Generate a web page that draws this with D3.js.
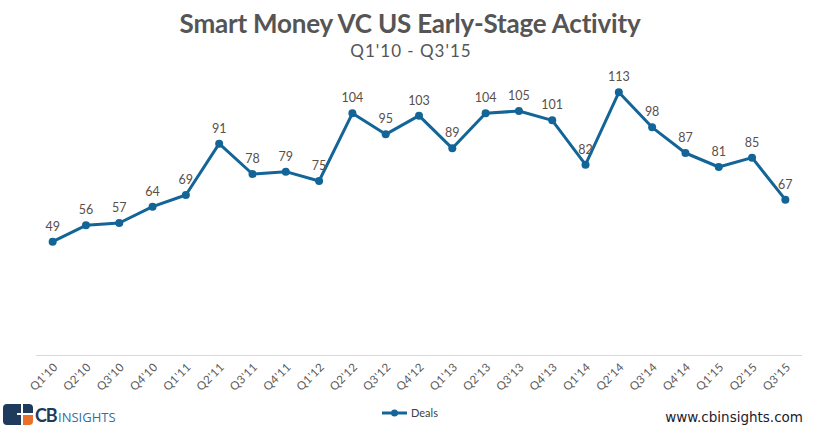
<!DOCTYPE html>
<html>
<head>
<meta charset="utf-8">
<script src="https://cdn.jsdelivr.net/npm/d3@7"></script>
<style>
  html, body { margin: 0; padding: 0; background: #fff; }
  svg { display: block; }
</style>
</head>
<body>
<svg id="chart" width="816" height="433"></svg>
<script>
'use strict';

// ── Data ─────────────────────────────────────────────────────
const QUARTERS = [
  "Q1'10", "Q2'10", "Q3'10", "Q4'10",
  "Q1'11", "Q2'11", "Q3'11", "Q4'11",
  "Q1'12", "Q2'12", "Q3'12", "Q4'12",
  "Q1'13", "Q2'13", "Q3'13", "Q4'13",
  "Q1'14", "Q2'14", "Q3'14", "Q4'14",
  "Q1'15", "Q2'15", "Q3'15"
];
const DEALS = [49, 56, 57, 64, 69, 91, 78, 79, 75, 104, 95, 103,
               89, 104, 105, 101, 82, 113, 98, 87, 81, 85, 67];
const Y_DOMAIN = [0, 120];

const TITLE    = 'Smart Money VC US Early-Stage Activity';
const SUBTITLE = "Q1'10 - Q3'15";
const SERIES   = 'Deals';

const LINE_COLOR = '#136597';
const TEXT_COLOR = '#595959';
const LABEL_FONT = 'Lato, "Open Sans", sans-serif';

const svg = d3.select('#chart');

// ── Scales ───────────────────────────────────────────────────
const x = d3.scaleBand().domain(QUARTERS).range([36, 802]).padding(0);
const y = d3.scaleLinear().domain(Y_DOMAIN).range([356, 76]);
const cx = q => x(q) + x.bandwidth() / 2;

const points = QUARTERS.map((q, i) => ({ q, v: DEALS[i] }));

// ── Titles ───────────────────────────────────────────────────
svg.append('text')
  .attr('x', 410).attr('y', 33)
  .attr('text-anchor', 'middle')
  .attr('font-family', LABEL_FONT)
  .attr('font-weight', 'bold')
  .attr('font-size', 26)
  .attr('letter-spacing', -0.2)
  .attr('fill', '#555')
  .text(TITLE);

svg.append('text')
  .attr('x', 411).attr('y', 57)
  .attr('text-anchor', 'middle')
  .attr('font-family', LABEL_FONT)
  .attr('font-size', 17)
  .attr('letter-spacing', 1)
  .attr('fill', '#555')
  .text(SUBTITLE);

// ── Axis ─────────────────────────────────────────────────────
svg.append('line')
  .attr('x1', x.range()[0]).attr('x2', x.range()[1])
  .attr('y1', y(0) - 0.5).attr('y2', y(0) - 0.5)
  .attr('stroke', '#d9d9d9').attr('stroke-width', 1);

svg.append('g').selectAll('text').data(QUARTERS).join('text')
  .attr('transform', q => `translate(${cx(q) + 3},${y(0) + 9}) rotate(-45)`)
  .attr('text-anchor', 'end')
  .attr('dy', '0.35em')
  .attr('font-family', LABEL_FONT)
  .attr('font-size', 11.5)
  .attr('letter-spacing', 0.4)
  .attr('fill', TEXT_COLOR)
  .text(q => q);

// ── Series ───────────────────────────────────────────────────
const line = d3.line().x(d => cx(d.q)).y(d => y(d.v));

svg.append('path')
  .datum(points)
  .attr('d', line)
  .attr('fill', 'none')
  .attr('stroke', LINE_COLOR)
  .attr('stroke-width', 3)
  .attr('stroke-linejoin', 'round');

svg.append('g').selectAll('circle').data(points).join('circle')
  .attr('cx', d => cx(d.q))
  .attr('cy', d => y(d.v))
  .attr('r', 4)
  .attr('fill', LINE_COLOR);

svg.append('g').selectAll('text').data(points).join('text')
  .attr('x', d => cx(d.q))
  .attr('y', d => y(d.v) - 11)
  .attr('text-anchor', 'middle')
  .attr('font-family', LABEL_FONT)
  .attr('font-size', 12.5)
  .attr('fill', '#5a4f48')
  .text(d => d.v);

// ── Legend ───────────────────────────────────────────────────
const lg = svg.append('g').attr('transform', 'translate(382,413)');
lg.append('line').attr('x1', 0).attr('x2', 25).attr('y1', 0).attr('y2', 0)
  .attr('stroke', LINE_COLOR).attr('stroke-width', 3);
lg.append('circle').attr('cx', 12.5).attr('cy', 0).attr('r', 3.5).attr('fill', LINE_COLOR);
lg.append('text').attr('x', 29).attr('y', 4)
  .attr('font-family', LABEL_FONT).attr('font-size', 11)
  .attr('fill', '#404040').text(SERIES);

// ── Footer: logo + url ───────────────────────────────────────
const logo = svg.append('g').attr('transform', 'translate(3,404)');
logo.append('path')
  .attr('d', 'M4,0 H18 V9 H14 V11 H18 V21 H4 Q0,21 0,17 V4 Q0,0 4,0 Z')
  .attr('fill', '#1e3a5c');
logo.append('path')
  .attr('d', 'M20,0 H26 Q30,0 30,4 V9 H20 Z')
  .attr('fill', '#1e3a5c');
logo.append('path')
  .attr('d', 'M20,11 H30 V17 Q30,21 26,21 H20 Z')
  .attr('fill', '#e8702a');
logo.append('text').attr('x', 32).attr('y', 18)
  .attr('font-family', 'Lato, sans-serif').attr('font-weight', 'bold')
  .attr('font-size', 18).attr('letter-spacing', -1.2).attr('fill', '#1e3a5c').text('CB');
logo.append('text').attr('x', 55).attr('y', 18)
  .attr('font-family', '"Liberation Sans Narrow", "Open Sans", sans-serif')
  .attr('font-size', 13).attr('fill', '#2f6ea6').text('INSIGHTS');

svg.append('text')
  .attr('x', 803).attr('y', 422)
  .attr('text-anchor', 'end')
  .attr('font-family', '"DejaVu Sans", sans-serif')
  .attr('font-size', 13.5)
  .attr('fill', '#1c1c2c')
  .text('www.cbinsights.com');
</script>
</body>
</html>
